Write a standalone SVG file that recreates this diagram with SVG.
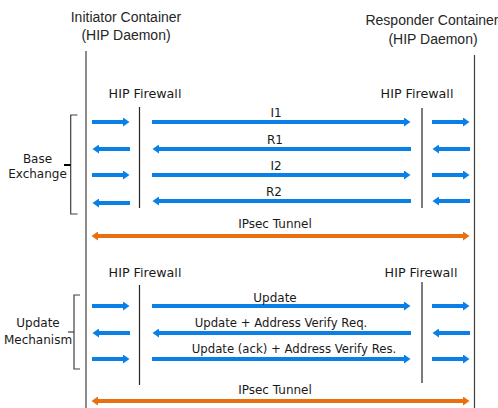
<svg xmlns="http://www.w3.org/2000/svg" width="498" height="408" viewBox="0 0 498 408">
<defs>
<style>
.t{font-family:"Liberation Sans",Arial,sans-serif;font-size:14px;fill:#262626;text-anchor:middle}
.l{font-family:"DejaVu Sans",Verdana,sans-serif;font-size:12px;fill:#1a1a1a;text-anchor:middle}
.f{font-size:12.7px}
.s{font-size:11.7px}
.life{stroke:#404040;stroke-width:1.2;fill:none}
.fw{stroke:#262626;stroke-width:1.2;fill:none}
.br{stroke:#404040;stroke-width:1.2;fill:none}
.tick{stroke:#000;stroke-width:2;fill:none}
.a{stroke:#0A80E6;stroke-width:4;fill:none}
.o{stroke:#E8700F;stroke-width:4;fill:none}
</style>
<marker id="hb" markerUnits="userSpaceOnUse" markerWidth="7" markerHeight="9" refX="1" refY="4.5" orient="auto-start-reverse"><path d="M0,0 L6.5,4.5 L0,9 Z" fill="#0A80E6"/></marker>
<marker id="ho" markerUnits="userSpaceOnUse" markerWidth="7" markerHeight="9" refX="1" refY="4.5" orient="auto-start-reverse"><path d="M0,0 L6.5,4.5 L0,9 Z" fill="#E8700F"/></marker>
</defs>
<rect width="498" height="408" fill="#fff"/>
<g id="initiator">
<line class="life" x1="86" y1="51" x2="86" y2="408"/>
<text class="t" x="126" y="22">Initiator Container</text>
<text class="t" x="126" y="40">(HIP Daemon)</text>
</g>
<g id="responder">
<line class="life" x1="474.5" y1="55" x2="474.5" y2="408"/>
<text class="t" x="432" y="25">Responder Container</text>
<text class="t" x="433" y="44">(HIP Daemon)</text>
</g>
<g id="fw-init-1">
<line class="fw" x1="139.5" y1="107" x2="139.5" y2="208"/>
<text class="l f" x="145" y="98">HIP Firewall</text>
</g>
<g id="fw-resp-1">
<line class="fw" x1="422" y1="108" x2="422" y2="208"/>
<text class="l f" x="417" y="98">HIP Firewall</text>
</g>
<g id="fw-init-2">
<line class="fw" x1="139.5" y1="285" x2="139.5" y2="385"/>
<text class="l f" x="145" y="277">HIP Firewall</text>
</g>
<g id="fw-resp-2">
<line class="fw" x1="422" y1="282" x2="422" y2="383"/>
<text class="l f" x="421" y="277">HIP Firewall</text>
</g>
<g id="base-exchange">
<path class="br" d="M77.5,115 H70.7 V214 H77.5"/>
<path class="tick" d="M64,165 H70.7"/>
<text class="l" x="37.5" y="163">Base</text>
<text class="l" x="37.5" y="178">Exchange</text>
</g>
<g id="update-mechanism">
<path class="br" d="M80,295 H74 V369 H80"/>
<path class="br" d="M68,332 H74"/>
<text class="l" x="38" y="327">Update</text>
<text class="l" x="38" y="344">Mechanism</text>
</g>
<g id="connectors">
<line class="a" x1="92" y1="122" x2="124" y2="122" marker-end="url(#hb)"/>
<line class="a" x1="152" y1="122" x2="405" y2="122" marker-end="url(#hb)"/>
<line class="a" x1="432" y1="122" x2="464" y2="122" marker-end="url(#hb)"/>
<line class="a" x1="130" y1="149" x2="98" y2="149" marker-end="url(#hb)"/>
<line class="a" x1="411" y1="149" x2="158" y2="149" marker-end="url(#hb)"/>
<line class="a" x1="470" y1="149" x2="438" y2="149" marker-end="url(#hb)"/>
<line class="a" x1="92" y1="175" x2="124" y2="175" marker-end="url(#hb)"/>
<line class="a" x1="152" y1="175" x2="405" y2="175" marker-end="url(#hb)"/>
<line class="a" x1="432" y1="175" x2="464" y2="175" marker-end="url(#hb)"/>
<line class="a" x1="130" y1="203" x2="98" y2="203" marker-end="url(#hb)"/>
<line class="a" x1="411" y1="201" x2="158" y2="201" marker-end="url(#hb)"/>
<line class="a" x1="470" y1="201" x2="438" y2="201" marker-end="url(#hb)"/>
<text class="l" x="276" y="117">I1</text>
<text class="l" x="275" y="144">R1</text>
<text class="l" x="276" y="170">I2</text>
<text class="l" x="274" y="196">R2</text>
<line class="o" x1="97" y1="236" x2="464" y2="236" marker-start="url(#ho)" marker-end="url(#ho)"/>
<text class="l" x="275" y="228">IPsec Tunnel</text>
<line class="a" x1="92" y1="306" x2="124" y2="306" marker-end="url(#hb)"/>
<line class="a" x1="152" y1="306" x2="405" y2="306" marker-end="url(#hb)"/>
<line class="a" x1="432" y1="306" x2="464" y2="306" marker-end="url(#hb)"/>
<line class="a" x1="130" y1="333" x2="98" y2="333" marker-end="url(#hb)"/>
<line class="a" x1="411" y1="333" x2="158" y2="333" marker-end="url(#hb)"/>
<line class="a" x1="470" y1="333" x2="438" y2="333" marker-end="url(#hb)"/>
<line class="a" x1="92" y1="359" x2="124" y2="359" marker-end="url(#hb)"/>
<line class="a" x1="152" y1="359" x2="405" y2="359" marker-end="url(#hb)"/>
<line class="a" x1="432" y1="359" x2="464" y2="359" marker-end="url(#hb)"/>
<text class="l" x="275" y="302">Update</text>
<text class="l s" x="281" y="327">Update + Address Verify Req.</text>
<text class="l s" x="294" y="353">Update (ack) + Address Verify Res.</text>
<line class="o" x1="97" y1="401" x2="464" y2="401" marker-start="url(#ho)" marker-end="url(#ho)"/>
<text class="l" x="275" y="394">IPsec Tunnel</text>
</g>
</svg>
